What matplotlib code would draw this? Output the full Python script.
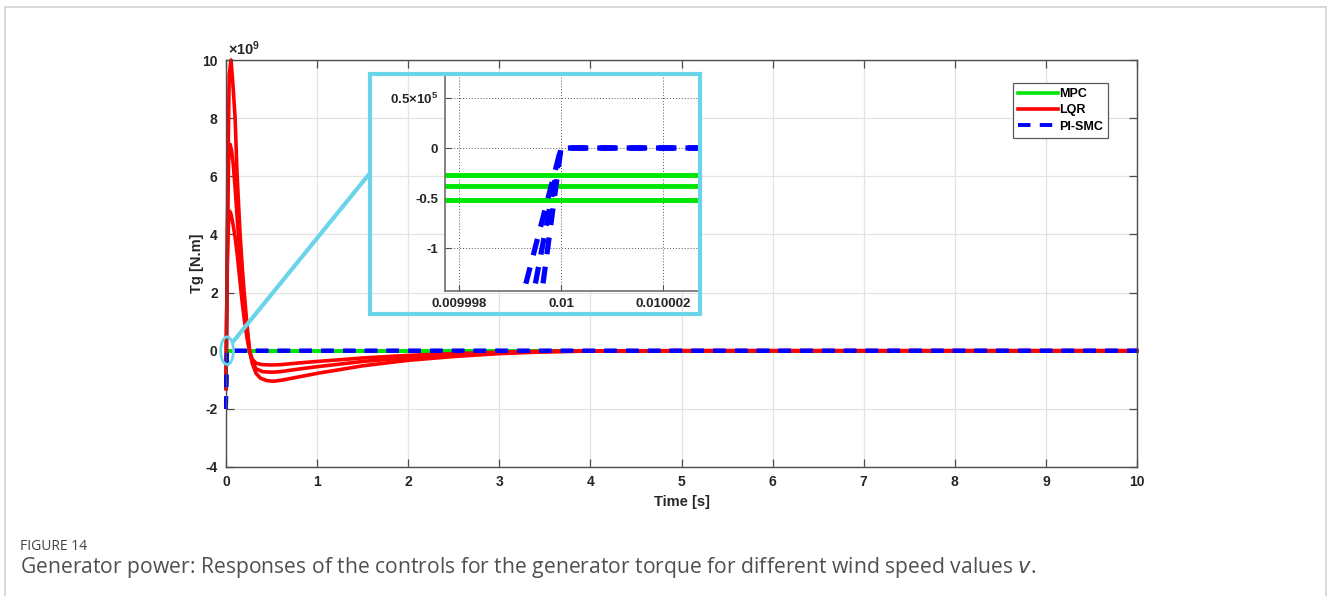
import matplotlib
matplotlib.use("Agg")
import matplotlib.pyplot as plt
from matplotlib.patches import Rectangle, Ellipse, ConnectionPatch

# ---- data (Tg in N.m) ----
time_lqr_1 = [0, 0.01, 0.02, 0.035, 0.055, 0.075, 0.1, 0.12, 0.14, 0.155, 0.18, 0.2, 0.23, 0.26,
              0.29, 0.33, 0.38, 0.45, 0.52, 0.6, 0.8, 1.0, 1.5, 2.0, 2.5, 3.0, 3.5, 4.0, 5.0, 10.0]
tg_lqr_1 = [-1.3, 2.0, 6.0, 9.5, 10.0, 9.2, 8.0, 6.2, 4.9, 4.0, 2.8, 2.0, 0.9, 0.0,
            -0.45, -0.78, -0.95, -1.03, -1.05, -1.02, -0.9, -0.78, -0.52, -0.33, -0.2, -0.1, -0.04, -0.01, 0.0, 0.0]

time_lqr_2 = [0, 0.008, 0.015, 0.03, 0.045, 0.06, 0.08, 0.1, 0.12, 0.14, 0.16, 0.18, 0.2, 0.23, 0.26,
              0.29, 0.33, 0.4, 0.5, 0.6, 0.8, 1.0, 1.5, 2.0, 2.5, 3.0, 3.5, 4.0, 5.0, 10.0]
tg_lqr_2 = [-1.3, 1.5, 4.0, 6.8, 7.1, 6.9, 6.4, 5.6, 4.7, 3.8, 3.0, 2.2, 1.5, 0.65, -0.02,
            -0.4, -0.62, -0.72, -0.74, -0.72, -0.63, -0.55, -0.37, -0.24, -0.14, -0.07, -0.03, -0.01, 0.0, 0.0]

time_lqr_3 = [0, 0.007, 0.015, 0.03, 0.04, 0.055, 0.08, 0.1, 0.12, 0.14, 0.16, 0.18, 0.2, 0.23, 0.26,
              0.29, 0.33, 0.4, 0.5, 0.6, 0.8, 1.0, 1.5, 2.0, 2.5, 3.0, 3.5, 4.0, 5.0, 10.0]
tg_lqr_3 = [-1.3, 1.0, 3.0, 4.7, 4.8, 4.7, 4.3, 3.9, 3.4, 2.8, 2.2, 1.6, 1.1, 0.45, -0.05,
            -0.3, -0.43, -0.48, -0.49, -0.48, -0.42, -0.37, -0.25, -0.16, -0.1, -0.05, -0.02, -0.005, 0.0, 0.0]

time_mpc = [0, 10.0]
tg_mpc_1 = [-0.27e5, -0.27e5]
tg_mpc_2 = [-0.38e5, -0.38e5]
tg_mpc_3 = [-0.52e5, -0.52e5]

time_smc_1 = [0, 0.009999239, 0.01, 10.0]
time_smc_2 = [0, 0.009999445, 0.01, 10.0]
time_smc_3 = [0, 0.009999610, 0.01, 10.0]
tg_smc = [-2.0e9, -1.5e5, 0.0, 0.0]

x_ticks = list(range(0, 11))
y_ticks = [-4e9, -2e9, 0, 2e9, 4e9, 6e9, 8e9, 10e9]
y_tick_labels = ["-4", "-2", "0", "2", "4", "6", "8", "10"]
inset_x_ticks = [0.009998, 0.01, 0.010002]
inset_x_labels = ["0.009998", "0.01", "0.010002"]
inset_y_ticks = [-1e5, -0.5e5, 0, 0.5e5]
inset_y_labels = ["-1", "-0.5", "0", r"0.5$\times$10$^{5}$"]

GREEN = "#00E600"
RED = "#FF0000"
BLUE = "#0000FF"
CYAN = "#6AD4E8"
AX_COLOR = "#4D4D4D"
W, H = 1328, 596

plt.rcParams["font.family"] = ["Liberation Sans", "DejaVu Sans"]
plt.rcParams["mathtext.fontset"] = "custom"
plt.rcParams["mathtext.rm"] = "Liberation Sans:bold"
plt.rcParams["mathtext.it"] = "Liberation Sans:bold"

fig = plt.figure(figsize=(W / 100, H / 100), dpi=100)


def px_box(left, top, right, bottom):
    return [left / W, 1 - bottom / H, (right - left) / W, (bottom - top) / H]


def draw_series(axis, lw_scale=1.0, clip=True):
    for tg in (tg_mpc_1, tg_mpc_2, tg_mpc_3):
        axis.plot(time_mpc, tg, color=GREEN, lw=2.6 * lw_scale, solid_capstyle="butt", clip_on=clip)
    for t, tg in ((time_lqr_1, tg_lqr_1), (time_lqr_2, tg_lqr_2), (time_lqr_3, tg_lqr_3)):
        axis.plot(t, [v * 1e9 for v in tg], color=RED, lw=2.6 * lw_scale, clip_on=clip)
    for t in (time_smc_1, time_smc_2, time_smc_3):
        axis.plot(t, tg_smc, color=BLUE, lw=2.8 * lw_scale, ls=(0, (3.2, 2.4)), clip_on=clip)


# ---- main axes ----
ax = fig.add_axes(px_box(226, 60, 1137, 467))
draw_series(ax, clip=False)
ax.set_xlim(0, 10)
ax.set_ylim(-4e9, 10e9)
ax.set_xticks(x_ticks)
ax.set_xticklabels([str(v) for v in x_ticks])
ax.set_yticks(y_ticks)
ax.set_yticklabels(y_tick_labels)
ax.grid(True, color="#E3E3E3", lw=0.9)
ax.set_axisbelow(True)
ax.tick_params(direction="in", length=6, width=0.9, color=AX_COLOR, top=True, right=True,
               labelsize=10, labelcolor="#262626", pad=6)
for lbl in ax.get_xticklabels() + ax.get_yticklabels():
    lbl.set_fontweight("bold")
for sp in ax.spines.values():
    sp.set_color(AX_COLOR)
    sp.set_linewidth(1.0)
ax.set_xlabel("Time [s]", fontsize=10.5, fontweight="bold", color="#262626", labelpad=4)
ax.set_ylabel("Tg [N.m]", fontsize=10.5, fontweight="bold", color="#262626", labelpad=-1)
ax.text(0.002, 1.006, r"$\times$10$^{9}$", transform=ax.transAxes, fontsize=10.5,
        fontweight="bold", color="#262626", ha="left", va="bottom")

leg_handles = [plt.Line2D([], [], color=GREEN, lw=2.6),
               plt.Line2D([], [], color=RED, lw=2.6),
               plt.Line2D([], [], color=BLUE, lw=2.8, ls=(0, (3.2, 2.4)))]
leg = ax.legend(leg_handles, ["MPC", "LQR", "PI-SMC"], loc="upper right",
                bbox_to_anchor=(1 - 29 / 911, 1 - 23 / 407), fancybox=False,
                edgecolor="#5A5A5A", framealpha=1, borderpad=0.4, labelspacing=0.35,
                handlelength=3.2, handletextpad=0.1, borderaxespad=0,
                prop={"weight": "bold", "size": 9})
leg.get_frame().set_linewidth(0.9)

# zoom marker on main axes
ax.add_patch(Ellipse((0.012, 0.0), 0.14, 0.95e9, fill=False, edgecolor=CYAN, lw=2.0,
                     zorder=6, clip_on=False))
con = ConnectionPatch(xyA=(0.075, 0.3e9), coordsA=ax.transData,
                      xyB=(370 / W, 1 - 173 / H), coordsB=fig.transFigure,
                      color=CYAN, lw=3.0, zorder=6)
fig.add_artist(con)

# ---- inset axes ----
ins = fig.add_axes(px_box(445, 75, 699, 291))
draw_series(ins, lw_scale=1.35)
ins.set_xlim(0.00999773, 0.0100027)
ins.set_ylim(-1.43e5, 0.73e5)
ins.set_xticks(inset_x_ticks)
ins.set_xticklabels(inset_x_labels)
ins.set_yticks(inset_y_ticks)
ins.set_yticklabels(inset_y_labels)
ins.grid(True, color="#555555", lw=0.7, ls=(0, (1, 2)))
ins.set_axisbelow(True)
ins.tick_params(direction="in", length=4, width=0.8, color=AX_COLOR, labelsize=9.5,
                labelcolor="#262626", pad=5)
for lbl in ins.get_xticklabels() + ins.get_yticklabels():
    lbl.set_fontweight("bold")
ins.spines["top"].set_visible(False)
ins.spines["right"].set_visible(False)
for side in ("left", "bottom"):
    ins.spines[side].set_color("#6E6E6E")
    ins.spines[side].set_linewidth(1.2)

# cyan frame around the inset
fig.patches.append(Rectangle((370 / W, 1 - 314 / H), 330 / W, 240 / H, transform=fig.transFigure,
                             fill=False, edgecolor=CYAN, lw=3.0, zorder=7))

# page border
fig.patches.append(Rectangle((4.5 / W, -0.05), 1321.5 / W, 1.05 - 6.5 / H, transform=fig.transFigure,
                             fill=False, edgecolor="#D2D2D2", lw=1.2, zorder=0))

# caption
fig.text(20 / W, 1 - 547 / H, "FIGURE 14", fontsize=10, color="#444444",
         family=["Open Sans", "DejaVu Sans"], va="center", ha="left")
fig.text(20 / W, 1 - 568 / H,
         r"Generator power: Responses of the controls for the generator torque for different wind speed values $v$.",
         fontsize=15.2, color="#505050", family=["Open Sans", "DejaVu Sans"], va="center", ha="left",
         math_fontfamily="dejavusans")

fig.savefig("out.png", dpi=100)
